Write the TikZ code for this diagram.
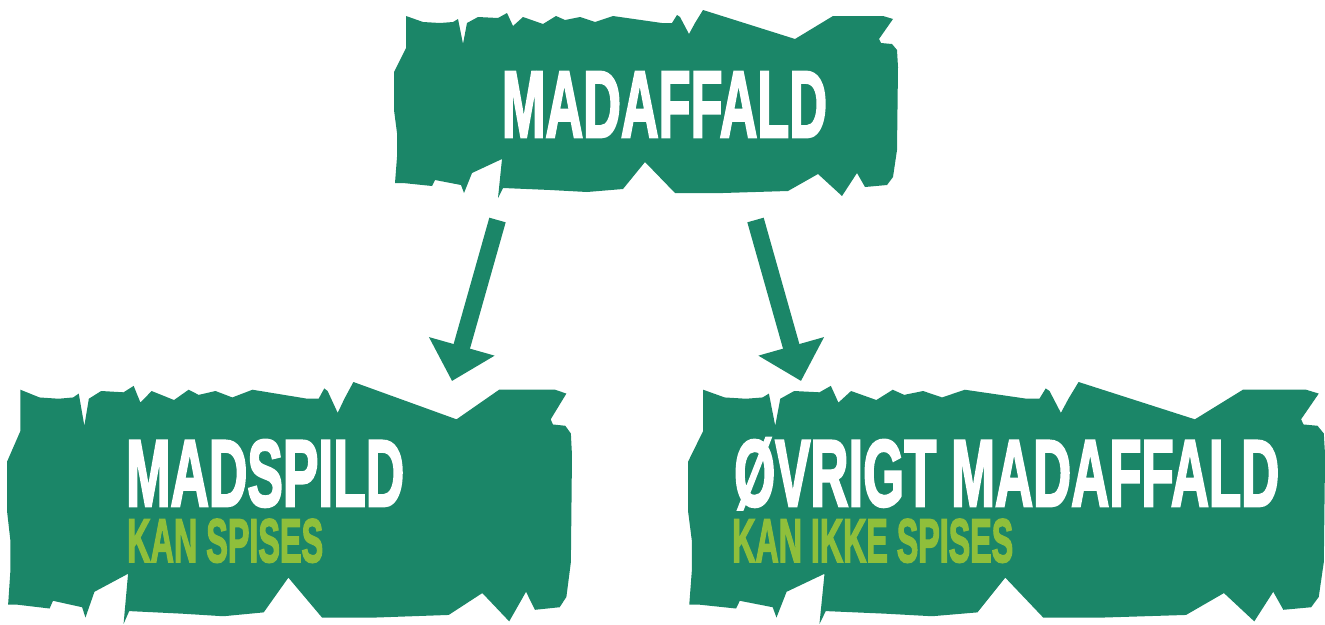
\documentclass[tikz,border=0pt]{standalone}
\usepackage{fontspec}
\setmainfont{Liberation Sans}
\newfontfamily\stencilfont{Liberation Sans}[UprightFont={* Bold}, FakeBold=3]
\usepackage{graphicx}
\usetikzlibrary{arrows.meta}

\definecolor{affaldgreen}{HTML}{1B8668}
\definecolor{spisgreen}{HTML}{8FBF3B}

\newcommand{\tornshape}{(12,6) -- (29,12) -- (46,13) -- (59,12) -- (64,9) -- (69,34) -- (73,13)
  -- (84,7) -- (104,8) -- (113,3) -- (119,16) -- (129,7) -- (149,14) -- (162,6) -- (171,10)
  -- (186,7) -- (201,12) -- (219,6) -- (268,13) -- (278,13) -- (283,5) -- (286,7) -- (295,24)
  -- (301,13) -- (309,0) -- (401,29) -- (439,6) -- (489,6) -- (499,9) -- (485,29) -- (487,33)
  -- (498,34) -- (503,40) -- (504,57) -- (503,140) -- (499,167) -- (493,175) -- (471,177)
  -- (463,163) -- (448,186) -- (424,164) -- (394,181) -- (329,183) -- (281,183) -- (251,152)
  -- (229,179) -- (193,182) -- (156,180) -- (109,178) -- (104,188) -- (108,149) -- (78,163)
  -- (70,183) -- (67,175) -- (41,170) -- (38,176) -- (9,173) -- (1,173) -- (3,147) -- (3,123)
  -- (0,100) -- (0,62) -- (12,38) -- cycle}
\newcommand{\stencil}[3]{\resizebox{#1pt}{#2pt}{\stencilfont #3}}

\begin{document}
\begin{tikzpicture}[x=1pt, y=-1pt,
    title/.style={inner sep=0pt, text=white},
    subtitle/.style={inner sep=0pt, text=spisgreen},
    pil/.style={draw=affaldgreen, line width=17pt, -{Triangle[width=66pt,length=36pt]}}]
  \useasboundingbox (0,0) rectangle (1325,624);
  % torn boxes
  \fill[affaldgreen, shift={(394,10)}] \tornshape;
  \fill[affaldgreen, shift={(7,382)}, xscale=1.121, yscale=1.287] \tornshape;
  \fill[affaldgreen, shift={(688,382)}, xscale=1.264, yscale=1.287] \tornshape;
  % texts
  \node[title, anchor=base] (madaffald) at (664.5,137) {\stencil{325}{65}{MADAFFALD}};
  \node[title, anchor=base west] (madspild) at (126,506) {\stencil{278}{66}{MADSPILD}};
  \node[subtitle, anchor=base west] (kanspises) at (127,562) {\stencil{196}{43}{KAN SPISES}};
  \node[title, anchor=base west] (oevrigt) at (734,506) {\stencil{545}{68}{ØVRIGT MADAFFALD}};
  \node[subtitle, anchor=base west] (kanikke) at (732,562) {\stencil{281}{43}{KAN IKKE SPISES}};
  % arrows
  \coordinate (lstart) at (497.5,220);
  \coordinate (lend) at (452,381);
  \coordinate (rstart) at (755.5,220);
  \coordinate (rend) at (801,381);
  \draw[pil] (lstart) -- (lend);
  \draw[pil] (rstart) -- (rend);
\end{tikzpicture}
\end{document}
